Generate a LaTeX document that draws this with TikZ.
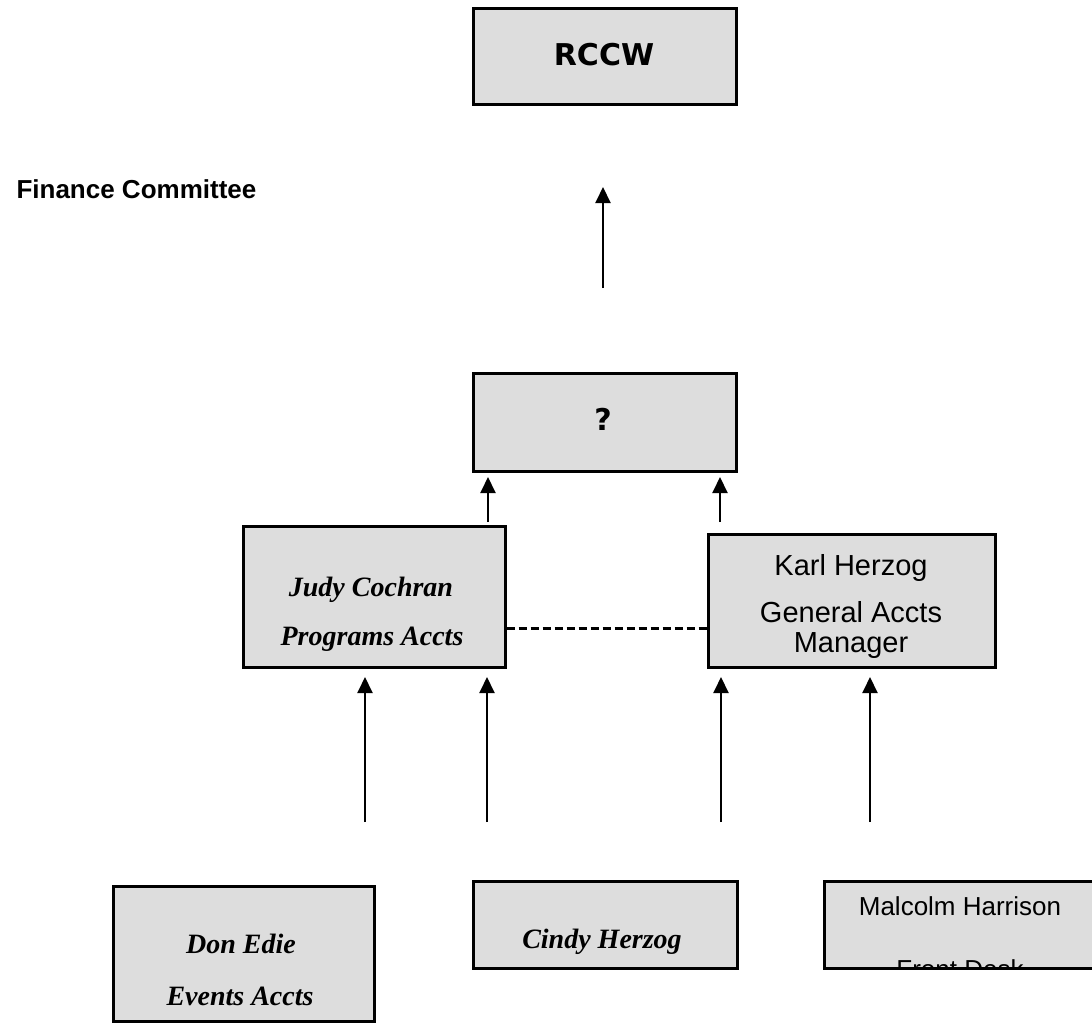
\documentclass[tikz,border=0pt]{standalone}
\usepackage{fontspec}
\setmainfont{Liberation Sans}
\newfontfamily\verdana{DejaVu Sans}
\newfontfamily\cambria{Liberation Serif}
\usetikzlibrary{arrows.meta}
\definecolor{boxgray}{RGB}{221,221,221}

\tikzset{
  box/.style={draw, line width=3pt, fill=boxgray, inner sep=0pt},
  up/.style={line width=2pt, -{Triangle[width=15pt,length=16pt]}},
  link/.style={line width=3pt, dash pattern=on 8pt off 4pt},
  headtext/.style={font=\verdana\bfseries\fontsize{30}{36}\selectfont, anchor=base},
  nametext/.style={font=\cambria\bfseries\itshape\fontsize{28}{34}\selectfont, anchor=base},
  plaintext/.style={font=\fontsize{29}{34}\selectfont, anchor=base},
}

\begin{document}
\begin{tikzpicture}[x=1pt, y=-1pt]
  \useasboundingbox (0,0) rectangle (1092,1023);

  % boxes
  \node[box, minimum width=263, minimum height=96] (rccw) at (605,56) {};
  \node[box, minimum width=263, minimum height=98] (ask) at (605,422) {};
  \node[box, minimum width=262, minimum height=141] (judy) at (374,596.5) {};
  \node[box, minimum width=287, minimum height=133] (karl) at (851.5,600.5) {};
  \node[box, minimum width=261, minimum height=135] (don) at (243.5,953.5) {};
  \node[box, minimum width=264, minimum height=87] (cindy) at (605,924.5) {};
  \node[box, minimum width=273, minimum height=87] (malcolm) at (960.5,924.5) {};

  % texts
  \node[headtext] (rccwt) at (604,65) {RCCW};
  \node[headtext] (askt) at (603,430) {?};
  \node[font=\bfseries\fontsize{26}{30}\selectfont, anchor=base west] (fin) at (13,198) {Finance Committee};
  \node[nametext] (judy1) at (371,596) {Judy Cochran};
  \node[nametext] (judy2) at (372,645) {Programs Accts};
  \node[nametext] (don1) at (241,953) {Don Edie};
  \node[nametext] (don2) at (240,1005) {Events Accts};
  \node[nametext] (cindy1) at (602,948) {Cindy Herzog};
  \begin{scope}
    \clip (karl.north west) rectangle ([yshift=10pt]karl.south east);
    \node[plaintext] (karl1) at (851,575) {Karl Herzog};
    \node[plaintext] (karl2) at (851,622) {General Accts};
    \node[plaintext] (karl3) at (851,652) {Manager};
  \end{scope}
  \begin{scope}
    \clip ([shift={(1.5pt,-1.5pt)}]malcolm.north west) rectangle ([shift={(-1.5pt,1.5pt)}]malcolm.south east);
    \node[plaintext, font=\fontsize{26}{30}\selectfont] (mal1) at (960,915) {Malcolm Harrison};
    \node[plaintext, font=\fontsize{26}{30}\selectfont] (mal2) at (960,978) {Front Desk};
  \end{scope}

  % dotted tie between the two managers
  \coordinate (tie) at ([yshift=-31.5pt]judy.east);
  \draw[link] (tie) -- (tie -| karl.west);

  % reporting arrows
  \coordinate (s0) at (603,288);
  \coordinate (t0) at (603,187);
  \draw[up] (s0) -- (t0);
  \foreach \x/\n in {488/a,720/b}
  {
    \coordinate (s\n) at (\x,522);
    \coordinate (t\n) at (\x,477);
    \draw[up] (s\n) -- (t\n);
  };
  \foreach \x/\n in {365/1,487/2,721/3,870/4}
  {
    \coordinate (s\n) at (\x,822);
    \coordinate (t\n) at (\x,677);
    \draw[up] (s\n) -- (t\n);
  };
\end{tikzpicture}
\end{document}
